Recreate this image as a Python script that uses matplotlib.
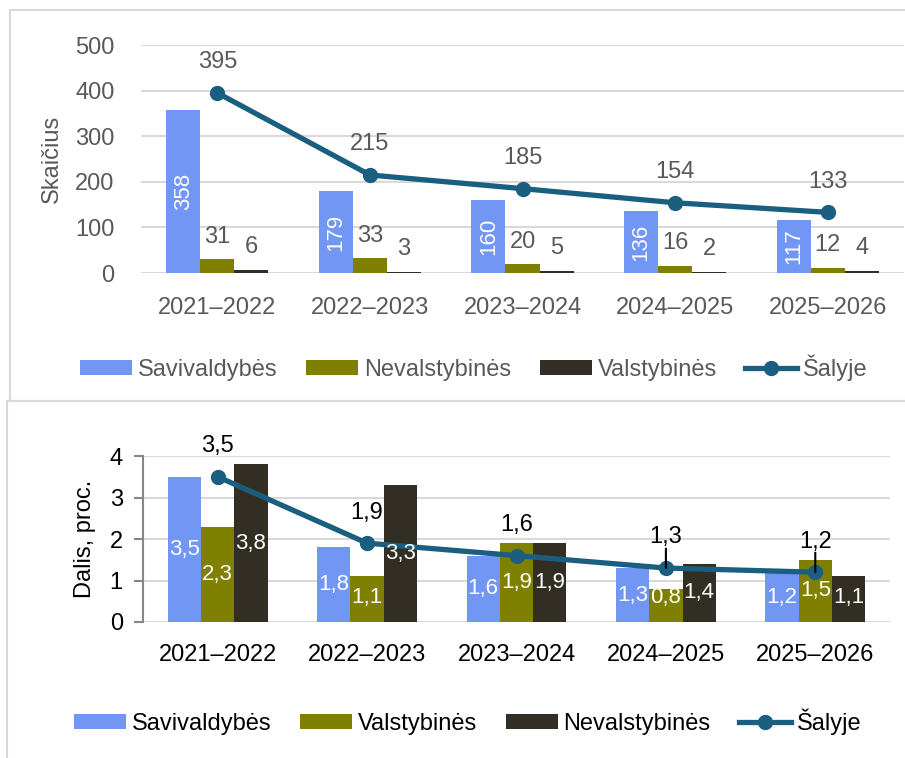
import matplotlib
matplotlib.use('Agg')
import matplotlib.pyplot as plt
from matplotlib.patches import Rectangle
import numpy as np

plt.rcParams['font.family'] = ['Liberation Sans', 'DejaVu Sans']

# Data
years = ['2021–2022', '2022–2023', '2023–2024', '2024–2025', '2025–2026']

# Top chart: counts
cnt_saviv = [358, 179, 160, 136, 117]
cnt_neval = [31, 33, 20, 16, 12]
cnt_valst = [6, 3, 5, 2, 4]
cnt_total = [395, 215, 185, 154, 133]

# Bottom chart: share, percent
pct_saviv = [3.5, 1.8, 1.6, 1.3, 1.2]
pct_valst = [2.3, 1.1, 1.9, 0.8, 1.5]
pct_neval = [3.8, 3.3, 1.9, 1.4, 1.1]
pct_total = [3.5, 1.9, 1.6, 1.3, 1.2]
leader_idx = [3, 4]  # points with a label leader line

BLUE = '#7196F4'
OLIVE = '#808000'
DARK = '#332E24'
LINE = '#1A5F80'
GRID = '#D9D9D9'
GRAY = '#595959'
FS = 17

fig = plt.figure(figsize=(9.05, 7.58), dpi=100)

# panel frames
fig.patches.append(Rectangle((10 / 905, 1 - 401 / 758), 1.0, 391 / 758, transform=fig.transFigure,
                             fill=False, edgecolor=GRID, linewidth=1.5))
fig.patches.append(Rectangle((7 / 905, -0.05), 1.0, 1 - 401 / 758 + 0.05, transform=fig.transFigure,
                             fill=False, edgecolor=GRID, linewidth=1.5))

x = np.arange(len(years))
w = 0.223


def fmt(v):
    return str(v).replace('.', ',')


# ---------- top chart ----------
ax1 = fig.add_axes([141 / 905, 1 - 273 / 758, 763 / 905, 228 / 758])
b1 = ax1.bar(x - w, cnt_saviv, w, color=BLUE, label='Savivaldybės', zorder=2)
b2 = ax1.bar(x, cnt_neval, w, color=OLIVE, label='Nevalstybinės', zorder=2)
b3 = ax1.bar(x + w, cnt_valst, w, color=DARK, label='Valstybinės', zorder=2)
l1, = ax1.plot(x, cnt_total, color=LINE, lw=3.8, marker='o', ms=10, label='Šalyje', zorder=3)

for xi, v in zip(x - w, cnt_saviv):
    ax1.text(xi, v / 2, str(v), rotation=90, ha='center', va='center', color='white', fontsize=FS - 1)
for xi, v in zip(x, cnt_neval):
    ax1.annotate(str(v), (xi, v), xytext=(0, 16), textcoords='offset points',
                 ha='center', va='center', color=GRAY, fontsize=FS)
for xi, v in zip(x + w, cnt_valst):
    ax1.annotate(str(v), (xi, v), xytext=(0, 16.5), textcoords='offset points',
                 ha='center', va='center', color=GRAY, fontsize=FS)
for xi, v in zip(x, cnt_total):
    ax1.annotate(str(v), (xi, v), xytext=(0, 22), textcoords='offset points',
                 ha='center', va='center', color=GRAY, fontsize=FS)

ax1.set_xlim(-0.5, len(years) - 0.5)
ax1.set_ylim(0, 500)
ax1.set_yticks([0, 100, 200, 300, 400, 500])
ax1.set_xticks(x)
ax1.set_xticklabels(years)
ax1.tick_params(axis='both', length=0, labelsize=FS, colors=GRAY)
ax1.tick_params(axis='y', pad=19)
ax1.tick_params(axis='x', pad=17)
ax1.grid(axis='y', color=GRID, lw=1.5, zorder=0)
ax1.set_axisbelow(True)
for s in ax1.spines.values():
    s.set_visible(False)
ax1.set_ylabel('Skaičius', fontsize=FS, color=GRAY, labelpad=9)

fig.legend(handles=[b1, b2, b3, l1], loc='center', bbox_to_anchor=(474 / 905, 1 - 368 / 758),
           ncol=4, frameon=False, fontsize=FS, labelcolor=GRAY, handlelength=2.2,
           handleheight=0.6, handletextpad=0.25, columnspacing=1.2)

# ---------- bottom chart ----------
ax2 = fig.add_axes([143 / 905, 1 - 622 / 758, 747 / 905, 166 / 758])
c1 = ax2.bar(x - w, pct_saviv, w, color=BLUE, label='Savivaldybės', zorder=2)
c2 = ax2.bar(x, pct_valst, w, color=OLIVE, label='Valstybinės', zorder=2)
c3 = ax2.bar(x + w, pct_neval, w, color=DARK, label='Nevalstybinės', zorder=2)
l2, = ax2.plot(x, pct_total, color=LINE, lw=3.8, marker='o', ms=10, label='Šalyje', zorder=3)

for xs, vals in [(x - w, pct_saviv), (x, pct_valst), (x + w, pct_neval)]:
    for xi, v in zip(xs, vals):
        ax2.text(xi, max(v / 2, 0.6), fmt(v), ha='center', va='center', color='white', fontsize=FS - 1)
for xi, v in zip(x, pct_total):
    ax2.annotate(fmt(v), (xi, v), xytext=(0, 22), textcoords='offset points',
                 ha='center', va='center', color='black', fontsize=FS)
for i in leader_idx:
    ax2.annotate('', (x[i], pct_total[i]), xytext=(0, 14), textcoords='offset points',
                 arrowprops=dict(arrowstyle='-', color='black', lw=1.5, shrinkA=0, shrinkB=0),
                 zorder=4)

ax2.set_xlim(-0.5, len(years) - 0.5)
ax2.set_ylim(0, 4)
ax2.set_yticks([0, 1, 2, 3, 4])
ax2.set_xticks(x)
ax2.set_xticklabels(years)
ax2.tick_params(axis='x', length=0, labelsize=FS, colors='black', pad=16)
ax2.tick_params(axis='y', length=6.5, width=1.5, color='#868686', labelsize=FS,
                labelcolor='black', pad=8)
ax2.grid(axis='y', color=GRID, lw=1.5, zorder=0)
ax2.set_axisbelow(True)
for k, s in ax2.spines.items():
    s.set_visible(k == 'left')
ax2.spines['left'].set_color('#868686')
ax2.spines['left'].set_linewidth(1.5)
ax2.set_ylabel('Dalis, proc.', fontsize=FS, color='black', labelpad=10)

fig.legend(handles=[c1, c2, c3, l2], loc='center', bbox_to_anchor=(468 / 905, 1 - 722 / 758),
           ncol=4, frameon=False, fontsize=FS, labelcolor='black', handlelength=2.2,
           handleheight=0.6, handletextpad=0.25, columnspacing=1.2)

fig.savefig('out.png', dpi=100)
